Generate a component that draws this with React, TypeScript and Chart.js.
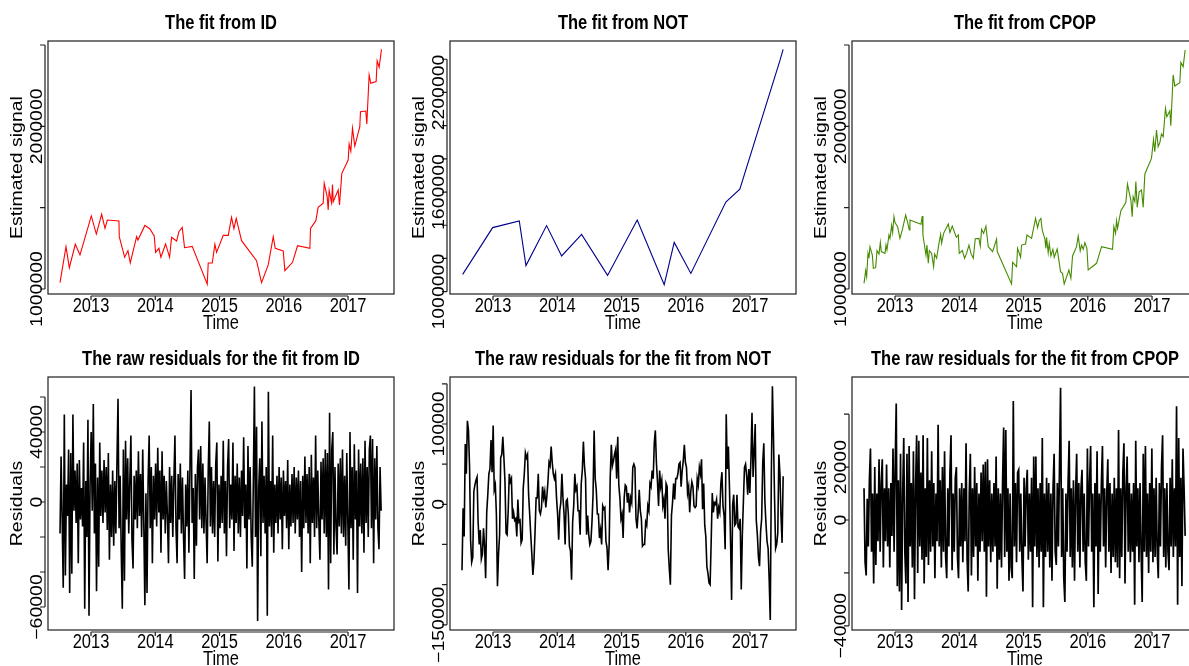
import React, { useEffect, useRef } from "react";
import { Chart, registerables } from "chart.js";

Chart.register(...registerables);

const FONT = "'Liberation Sans', Arial, Helvetica, sans-serif";
const VS = 1.18; // vertical stretch of glyphs seen in the reference

// ---- shared time axis ----
const X_MIN = 2012.331;
const X_MAX = 2017.715;
const YEAR_TICKS = [2013, 2014, 2015, 2016, 2017];

// ---- fitted signals (values in millions) ----
const ID_TIME = [
  2012.518, 2012.611, 2012.663, 2012.756, 2012.829, 2013.005, 2013.083, 2013.166, 2013.218, 2013.254,
  2013.435, 2013.44, 2013.524, 2013.575, 2013.611, 2013.71, 2013.73, 2013.839, 2013.917, 2013.984,
  2014.005, 2014.057, 2014.088, 2014.161, 2014.223, 2014.254, 2014.332, 2014.368, 2014.42, 2014.456,
  2014.575, 2014.809, 2014.824, 2014.887, 2014.928, 2014.954, 2015.058, 2015.136, 2015.187, 2015.224,
  2015.26, 2015.343, 2015.576, 2015.654, 2015.758, 2015.836, 2015.867, 2015.991, 2016.017, 2016.136,
  2016.214, 2016.406, 2016.416, 2016.499, 2016.535, 2016.613, 2016.629, 2016.675, 2016.691, 2016.706,
  2016.743, 2016.758, 2016.769, 2016.846, 2016.867, 2016.903, 2017.002, 2017.017, 2017.043, 2017.069,
  2017.105, 2017.183, 2017.193, 2017.276, 2017.292, 2017.328, 2017.354, 2017.437, 2017.453, 2017.484,
  2017.52,
];
const ID_FIT = [
  1.039, 1.26, 1.131, 1.275, 1.209, 1.449, 1.338, 1.459, 1.373, 1.424,
  1.418, 1.322, 1.195, 1.236, 1.16, 1.322, 1.301, 1.391, 1.369, 1.326,
  1.225, 1.25, 1.195, 1.277, 1.195, 1.318, 1.295, 1.352, 1.379, 1.254,
  1.262, 1.029, 1.16, 1.16, 1.275, 1.225, 1.33, 1.33, 1.441, 1.371,
  1.434, 1.297, 1.174, 1.039, 1.148, 1.322, 1.25, 1.234, 1.113, 1.164,
  1.266, 1.25, 1.373, 1.42, 1.502, 1.527, 1.65, 1.568, 1.486, 1.605,
  1.531, 1.643, 1.537, 1.609, 1.516, 1.711, 1.793, 1.891, 1.848, 1.988,
  1.879, 1.998, 2.09, 2.094, 2.014, 2.316, 2.264, 2.275, 2.402, 2.363,
  2.473,
];

const NOT_TIME = [
  2012.528, 2012.995, 2013.409, 2013.513, 2013.834, 2014.068, 2014.379, 2014.783,
  2015.244, 2015.664, 2015.82, 2016.079, 2016.623, 2016.841, 2017.463, 2017.515,
];
const NOT_FIT = [
  1.104, 1.386, 1.426, 1.157, 1.398, 1.215, 1.345, 1.098,
  1.432, 1.042, 1.297, 1.11, 1.54, 1.618, 2.39, 2.46,
];

const CPOP_TIME = [
  2012.518, 2012.544, 2012.559, 2012.58, 2012.595, 2012.611, 2012.647, 2012.663, 2012.699, 2012.72,
  2012.751, 2012.772, 2012.787, 2012.844, 2012.86, 2012.875, 2012.906, 2012.922, 2012.948, 2012.963,
  2012.984, 2013.0, 2013.041, 2013.077, 2013.114, 2013.166, 2013.197, 2013.223, 2013.233, 2013.404,
  2013.425, 2013.435, 2013.482, 2013.497, 2013.518, 2013.534, 2013.57, 2013.601, 2013.617, 2013.648,
  2013.684, 2013.71, 2013.725, 2013.757, 2013.829, 2013.855, 2013.891, 2013.954, 2013.985, 2014.0,
  2014.047, 2014.083, 2014.114, 2014.151, 2014.182, 2014.218, 2014.249, 2014.306, 2014.327, 2014.348,
  2014.379, 2014.415, 2014.451, 2014.519, 2014.581, 2014.591, 2014.814, 2014.83, 2014.892, 2014.907,
  2014.954, 2014.97, 2015.032, 2015.053, 2015.125, 2015.187, 2015.219, 2015.244, 2015.27, 2015.291,
  2015.333, 2015.348, 2015.358, 2015.384, 2015.4, 2015.426, 2015.457, 2015.478, 2015.524, 2015.55,
  2015.576, 2015.607, 2015.633, 2015.706, 2015.737, 2015.763, 2015.825, 2015.851, 2015.882, 2015.903,
  2015.929, 2015.955, 2015.986, 2016.006, 2016.136, 2016.214, 2016.385, 2016.406, 2016.432, 2016.447,
  2016.463, 2016.515, 2016.592, 2016.618, 2016.644, 2016.67, 2016.691, 2016.706, 2016.732, 2016.748,
  2016.769, 2016.8, 2016.836, 2016.862, 2016.888, 2016.991, 2017.023, 2017.043, 2017.069, 2017.095,
  2017.121, 2017.147, 2017.173, 2017.209, 2017.23, 2017.277, 2017.292, 2017.328, 2017.354, 2017.432,
  2017.448, 2017.484, 2017.515,
];
const CPOP_FIT = [
  1.035, 1.113, 1.076, 1.219, 1.189, 1.26, 1.209, 1.127, 1.131, 1.236,
  1.215, 1.287, 1.23, 1.219, 1.27, 1.24, 1.332, 1.311, 1.391, 1.346,
  1.445, 1.408, 1.383, 1.311, 1.363, 1.455, 1.408, 1.363, 1.424, 1.398,
  1.449, 1.332, 1.209, 1.27, 1.158, 1.236, 1.219, 1.137, 1.215, 1.189,
  1.281, 1.336, 1.281, 1.342, 1.4, 1.348, 1.387, 1.318, 1.332, 1.219,
  1.236, 1.189, 1.219, 1.27, 1.219, 1.189, 1.309, 1.311, 1.264, 1.367,
  1.342, 1.387, 1.26, 1.23, 1.307, 1.23, 1.031, 1.164, 1.137, 1.25,
  1.195, 1.27, 1.277, 1.332, 1.311, 1.434, 1.377, 1.42, 1.434, 1.363,
  1.305, 1.25, 1.318, 1.223, 1.281, 1.203, 1.244, 1.195, 1.246, 1.178,
  1.107, 1.096, 1.031, 1.117, 1.066, 1.203, 1.26, 1.326, 1.234, 1.27,
  1.244, 1.285, 1.25, 1.117, 1.158, 1.26, 1.244, 1.383, 1.342, 1.42,
  1.373, 1.482, 1.531, 1.645, 1.594, 1.547, 1.445, 1.568, 1.537, 1.66,
  1.502, 1.598, 1.609, 1.502, 1.707, 1.803, 1.92, 1.844, 1.977, 1.875,
  1.9, 1.953, 1.936, 2.111, 2.059, 2.096, 2.004, 2.316, 2.248, 2.268,
  2.393, 2.367, 2.469,
];

// ---- residuals (values in thousands), equally spaced in time ----
const RESID_START = 2012.518;
const RESID_END = 2017.515;

const ID_RESID = [
  -18, 26, -10, -49, 50, -42, 10, -8, 30, -52,
  28, -41, 50, -5, 18, -12, 22, -35, 24, -10,
  8, -14, 34, -61, 12, -20, 47, -65, 10, 40,
  -5, 56, -18, 22, -51, 14, -37, 34, -8, 18,
  -12, 24, -6, 20, -16, 28, -33, 10, -20, 18,
  -25, 12, -18, 22, 59, -15, 15, -28, -61, 30,
  -45, 35, -10, 25, -18, 12, 38, -22, -38, 15,
  -10, 18, -15, 29, -8, 16, -20, 30, -12, -59,
  5, -52, 12, 38, -15, 20, -35, 15, -10, 22,
  -14, 31, -6, 18, -29, 29, -10, 15, -18, 12,
  -8, -35, 20, -12, 15, -20, 12, 38, -15, -35,
  16, -10, 22, -18, 14, -20, -44, 10, -14, 18,
  -29, 20, 64, -12, 8, -44, 16, -25, 20, 30,
  -10, 32, -15, 22, -18, 14, -12, -35, 18, 46,
  -14, 20, -18, 12, -20, 22, 34, -34, 10, -15,
  15, -12, 35, -18, 12, -31, 20, 36, -15, 10,
  -10, 34, -28, 15, -12, 22, -18, 14, -20, 18,
  -8, 37, -15, 10, -38, 32, -10, 20, -20, -37,
  12, 66, -20, 43, -68, 8, 25, -31, 46, -12,
  15, -18, 20, -65, 63, -14, 12, -20, 38, -29,
  10, -12, 15, -18, 20, -10, 14, -27, 18, -8,
  12, -15, 24, -27, 10, -14, 16, -12, 20, -18,
  14, -10, 18, -20, 12, -40, 15, -15, 26, -12,
  16, -18, 20, -35, 27, -12, 14, -20, 38, -15,
  18, -12, -33, 23, -10, 25, -18, 30, -20, 28,
  -50, 51, -35, 30, 40, -30, 20, -15, -30, 22,
  -14, 25, -18, 30, -20, 15, -25, 28, -12, -50,
  40, -15, 20, -33, 33, -10, 18, -52, 30, -14,
  22, -18, 25, -29, 35, -12, 20, -20, 30, 38,
  -15, 36, -35, 25, -10, 32, -15, -27, 20, -5,
];

const NOT_RESID = [
  -82, -5, -40, 75, 38, 104, 92, 48, -45, -72,
  -66, 16, 24, 30, 34, -22, -50, -32, -68, -62,
  -30, -52, -92, -10, 12, 38, 44, 80, 40, 98,
  18, 24, -12, -102, -62, -38, 58, 62, 84, 58,
  28, -36, -38, -8, 38, 28, 32, -18, -10, -20,
  -18, -40, 6, -22, -20, -48, -44, 20, 38, 64,
  58, 62, 12, -12, -38, -62, -88, -70, -34, 8,
  8, 38, -8, -12, -4, 22, 8, 16, -4, 10,
  28, 52, 48, 72, 52, 38, 32, 38, 8, -12,
  -44, -8, 2, 38, 8, -12, -50, 4, 6, -12,
  -52, -58, -94, -22, -2, 38, 18, 22, -8, -8,
  -38, 26, 42, 78, 48, 32, -38, -14, -38, -50,
  -46, -22, 12, 92, 32, 18, -12, -12, -42, -32,
  -50, -2, -6, -4, -46, -54, -82, -50, 34, 74,
  48, 54, 62, 68, 32, 84, 24, 8, -18, -12,
  -42, 8, 24, 22, 2, 14, -10, 8, 2, 46,
  50, 46, -18, -30, -10, 18, -8, -18, -52, -50,
  -50, -22, -26, -2, -8, 26, 22, 42, 32, 76,
  92, 52, 28, -2, 42, 22, 30, -2, 6, -18,
  26, 22, -56, -80, -100, -14, 2, 26, 6, 32,
  32, 38, 50, 52, 22, 42, 54, 74, 52, 46,
  14, 22, -10, 16, 28, 22, -2, -4, -2, 32,
  24, 46, 38, 56, -6, 26, -26, -40, -78, -86,
  -98, -100, -46, 14, -10, 2, 0, 6, -18, -4,
  -10, 26, 40, -2, -14, -56, 112, 44, 72, 22,
  -44, -119, 0, 12, -26, -24, 12, -28, -30, -18,
  -106, -38, 4, 46, 50, 36, 12, 44, 14, 56,
  114, 34, 66, 100, -20, -38, -66, -77, -34, -18,
  52, 76, 4, -24, -46, -55, -94, -144, 36, 147,
  84, 8, -55, -50, -36, 62, 38, -14, -48, 35,
];

const CPOP_RESID = [
  12, -16, -21, 8, -10, 15, 27, -12, 10, -24,
  20, -17, 10, -8, 23, -12, 14, 23, -18, 12,
  -8, 21, -10, 12, -18, 14, -6, 27, -12, 20,
  44, -25, 15, -27, 25, -34, 10, 31, -12, -24,
  25, -31, 28, -10, 14, -18, 26, -30, 12, 32,
  -20, 30, -10, 18, -15, 32, -24, 12, -14, 31,
  -17, 15, -12, 26, -10, 14, -22, 10, -8, 36,
  -10, 15, -18, 20, -12, 26, -14, -22, 12, -10,
  18, 32, -19, 10, -12, 16, 20, -14, -22, 12,
  -10, 14, -16, 12, -8, 29, -15, -27, 10, 25,
  -21, 12, -14, 20, -10, 14, -23, 10, -12, 18,
  -8, 21, -12, 22, -29, 23, -10, 15, -16, 10,
  -12, 14, -10, 24, -26, 12, -15, 10, -18, 14,
  35, -14, 34, -12, 12, -23, 10, -18, -22, 45,
  -10, 14, -16, 18, 19, -12, 10, -14, -27, 16,
  -10, 12, 19, -15, 10, -12, 16, -33, 24, -10,
  24, -14, 12, -18, 14, -12, 31, -33, 10, -14,
  16, -12, 14, -18, 10, -23, 12, 25, -12, -17,
  14, -10, 20, 50, -14, 12, -22, -31, 10, -12,
  14, 30, -14, 12, -18, 15, -23, 10, 25, -12,
  14, -18, 12, 19, -12, 10, -16, -23, 27, -10,
  14, 28, -12, 10, -33, 14, -10, 26, -28, 10,
  -12, 14, 28, -10, 12, -18, 10, 23, -12, 14,
  -20, 10, -14, 16, -16, 12, -18, 34, -22, 12,
  -14, 18, 29, -24, 12, 24, -12, 14, -16, 10,
  -12, 14, -32, 30, -10, 12, -16, 14, -12, -31,
  25, -12, 28, -14, 10, -20, 14, -12, 27, -16,
  12, -14, 16, -12, -22, 14, -10, 20, 32, -14,
  12, -18, 14, -12, -19, 16, -10, 23, -14, 12,
  -10, 43, -32, 31, -14, 16, -25, 27, 12, -6,
];

// ---- y axes: ticks and which ticks carry a label ----
const SIGNAL_TICKS_A = [1000000, 1500000, 2000000, 2500000];
const SIGNAL_LABELS_A = [1000000, 2000000];
const SIGNAL_TICKS_B = [1000000, 1200000, 1400000, 1600000, 1800000, 2000000, 2200000, 2400000];
const SIGNAL_LABELS_B = [1000000, 1600000, 2200000];
const ID_RES_TICKS = [-60000, -40000, -20000, 0, 20000, 40000, 60000];
const ID_RES_LABELS = [-60000, 0, 40000];
const NOT_RES_TICKS = [-150000, -100000, -50000, 0, 50000, 100000, 150000];
const NOT_RES_LABELS = [-150000, 0, 100000];
const CPOP_RES_TICKS = [-40000, -20000, 0, 20000, 40000];
const CPOP_RES_LABELS = [-40000, 0, 20000];

type Cfg = {
  title: string;
  ylab: string;
  color: string;
  width: number;
  points: { x: number; y: number }[];
  yMin: number;
  yMax: number;
  yTicks: number[];
  yLabels: number[];
};

const fitPoints = (t: number[], v: number[]) => t.map((x, i) => ({ x, y: v[i] * 1e6 }));
const residPoints = (v: number[]) => {
  const step = (RESID_END - RESID_START) / (v.length - 1);
  return v.map((r, i) => ({ x: RESID_START + i * step, y: r * 1000 }));
};

const PANELS: Cfg[] = [
  { title: "The fit from ID", ylab: "Estimated signal", color: "#ff0000", width: 1.1, points: fitPoints(ID_TIME, ID_FIT), yMin: 969300, yMax: 2524600, yTicks: SIGNAL_TICKS_A, yLabels: SIGNAL_LABELS_A },
  { title: "The fit from NOT", ylab: "Estimated signal", color: "#00008b", width: 1.1, points: fitPoints(NOT_TIME, NOT_FIT), yMin: 986000, yMax: 2510000, yTicks: SIGNAL_TICKS_B, yLabels: SIGNAL_LABELS_B },
  { title: "The fit from CPOP", ylab: "Estimated signal", color: "#458b00", width: 1.1, points: fitPoints(CPOP_TIME, CPOP_FIT), yMin: 969300, yMax: 2524600, yTicks: SIGNAL_TICKS_A, yLabels: SIGNAL_LABELS_A },
  { title: "The raw residuals for the fit from ID", ylab: "Residuals", color: "#000000", width: 1.6, points: residPoints(ID_RESID), yMin: -73143, yMax: 71429, yTicks: ID_RES_TICKS, yLabels: ID_RES_LABELS },
  { title: "The raw residuals for the fit from NOT", ylab: "Residuals", color: "#000000", width: 1.6, points: residPoints(NOT_RESID), yMin: -156500, yMax: 158500, yTicks: NOT_RES_TICKS, yLabels: NOT_RES_LABELS },
  { title: "The raw residuals for the fit from CPOP", ylab: "Residuals", color: "#000000", width: 1.7, points: residPoints(CPOP_RESID), yMin: -41588, yMax: 54064, yTicks: CPOP_RES_TICKS, yLabels: CPOP_RES_LABELS },
];

const fmt = (v: number) => (v < 0 ? "\u2212" + String(-v) : String(v));

function drawText(ctx: CanvasRenderingContext2D, s: string, x: number, y: number, rotated: boolean, font: string) {
  ctx.save();
  ctx.translate(x, y);
  ctx.scale(1, VS);
  if (rotated) ctx.rotate(-Math.PI / 2);
  ctx.font = font;
  ctx.textAlign = "center";
  ctx.textBaseline = "alphabetic";
  ctx.fillText(s, 0, 0);
  ctx.restore();
}

function makeAxesPlugin(cfg: Cfg) {
  return {
    id: "rAxes",
    afterDraw(chart: any) {
      const ctx: CanvasRenderingContext2D = chart.ctx;
      const a = chart.chartArea;
      const xs = chart.scales.x;
      const ys = chart.scales.y;
      ctx.save();
      ctx.strokeStyle = "#1e1e1e";
      ctx.lineWidth = 1.2;
      ctx.strokeRect(a.left, a.top, a.right - a.left, a.bottom - a.top);

      const yp = cfg.yTicks.map((v) => ys.getPixelForValue(v));
      const ax = a.left - 3;
      ctx.beginPath();
      ctx.moveTo(ax, Math.max(...yp));
      ctx.lineTo(ax, Math.min(...yp));
      for (const p of yp) {
        ctx.moveTo(ax, p);
        ctx.lineTo(ax - 5, p);
      }
      const xp = YEAR_TICKS.map((v) => xs.getPixelForValue(v));
      const ay = a.bottom + 2;
      ctx.moveTo(xp[0], ay);
      ctx.lineTo(xp[xp.length - 1], ay);
      for (const p of xp) {
        ctx.moveTo(p, ay);
        ctx.lineTo(p, ay + 4);
      }
      ctx.stroke();

      ctx.fillStyle = "#000";
      const reg = `16.5px ${FONT}`;
      drawText(ctx, cfg.title, (a.left + a.right) / 2, a.top - 12, false, `bold 16.5px ${FONT}`);
      for (const v of cfg.yLabels) drawText(ctx, fmt(v), a.left - 6, ys.getPixelForValue(v), true, reg);
      drawText(ctx, cfg.ylab, a.left - 26, (a.top + a.bottom) / 2, true, reg);
      YEAR_TICKS.forEach((v, i) => drawText(ctx, String(v), xp[i], a.bottom + 18, false, reg));
      drawText(ctx, "Time", (a.left + a.right) / 2, a.bottom + 35, false, reg);
      ctx.restore();
    },
  };
}

function Panel({ cfg, left, top }: { cfg: Cfg; left: number; top: number }) {
  const ref = useRef<HTMLCanvasElement>(null);
  useEffect(() => {
    const chart = new Chart(ref.current as HTMLCanvasElement, {
      type: "line",
      data: {
        datasets: [
          {
            data: cfg.points,
            borderColor: cfg.color,
            borderWidth: cfg.width,
            pointRadius: 0,
            tension: 0,
            fill: false,
          },
        ],
      },
      options: {
        responsive: false,
        animation: false,
        devicePixelRatio: 1,
        parsing: false,
        events: [],
        layout: { padding: { left: 48, right: 8, top: 41, bottom: 42 } },
        scales: {
          x: { type: "linear", min: X_MIN, max: X_MAX, display: false },
          y: { type: "linear", min: cfg.yMin, max: cfg.yMax, display: false },
        },
        plugins: { legend: { display: false }, title: { display: false }, tooltip: { enabled: false } },
      } as any,
      plugins: [makeAxesPlugin(cfg)],
    });
    return () => chart.destroy();
  }, [cfg]);
  return (
    <canvas
      ref={ref}
      width={402}
      height={336}
      style={{ position: "absolute", left, top, width: 402, height: 336 }}
    />
  );
}

export default function App() {
  return (
    <div
      style={{
        position: "fixed",
        left: 0,
        top: 0,
        width: 1189,
        height: 666,
        overflow: "hidden",
        background: "#fff",
      }}
    >
      {PANELS.map((cfg, i) => (
        <Panel key={i} cfg={cfg} left={(i % 3) * 402} top={Math.floor(i / 3) * 336} />
      ))}
    </div>
  );
}
